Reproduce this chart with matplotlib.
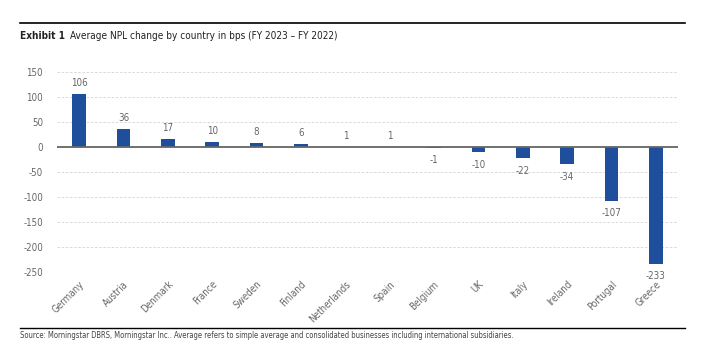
"""Average NPL change by country in bps (FY 2023 - FY 2022)."""

import matplotlib

matplotlib.use("Agg")
import matplotlib.pyplot as plt

countries = ["Germany", "Austria", "Denmark", "France", "Sweden", "Finland", "Netherlands",
             "Spain", "Belgium", "UK", "Italy", "Ireland", "Portugal", "Greece"]
npl_change = [106, 36, 17, 10, 8, 6, 1, 1, -1, -10, -22, -34, -107, -233]
y_ticks = [150, 100, 50, 0, -50, -100, -150, -200, -250]

TITLE_BOLD = "Exhibit 1"
TITLE_TEXT = "Average NPL change by country in bps (FY 2023 \u2013 FY 2022)"
SOURCE = ("Source: Morningstar DBRS, Morningstar Inc.. Average refers to simple average and "
          "consolidated businesses including international subsidiaries.")

BAR_COLOR = "#1f4e9d"
TEXT_GREY = "#666666"

# condensed face is the closest thing to the narrow house font
plt.rcParams["font.family"] = ["DejaVu Sans"]
plt.rcParams["font.stretch"] = "condensed"

W, H = 716, 345
fig = plt.figure(figsize=(W / 100, H / 100), dpi=100)
ax = fig.add_axes([57 / W, 1 - 272 / H, (678 - 57) / W, 200 / H])

x = range(len(countries))
ax.bar(x, npl_change, width=0.31, color=BAR_COLOR, zorder=3)
for i, v in enumerate(npl_change):
    if v >= 0:
        ax.annotate(str(v), (i, v), xytext=(0, 4), textcoords="offset points",
                    ha="center", va="bottom", fontsize=7, color=TEXT_GREY)
    else:
        ax.annotate(str(v), (i, v), xytext=(0, -5.5), textcoords="offset points",
                    ha="center", va="top", fontsize=7, color=TEXT_GREY,
                    annotation_clip=False)

ax.set_xlim(-0.5, len(countries) - 0.5)
ax.set_ylim(-250, 150)
ax.set_yticks(y_ticks)
ax.set_yticklabels([str(t) for t in y_ticks], fontsize=7, color=TEXT_GREY)
ax.set_xticks(list(x))
ax.set_xticklabels(countries, rotation=45, ha="right", rotation_mode="anchor",
                   fontsize=7, color=TEXT_GREY)
ax.tick_params(axis="both", length=0)
ax.tick_params(axis="y", pad=10)
ax.tick_params(axis="x", pad=5)

ax.grid(axis="y", color="#d4d4d4", linestyle=(0, (3, 2)), linewidth=0.6, zorder=0)
ax.axhline(0, color="#666666", linewidth=1.3, zorder=4)
for s in ax.spines.values():
    s.set_visible(False)

# header and footer rules
fig.add_artist(plt.Line2D([20 / W, 685 / W], [1 - 23 / H] * 2, color="black", linewidth=1.2))
fig.add_artist(plt.Line2D([20 / W, 685 / W], [1 - 328 / H] * 2, color="black", linewidth=1.0))

t1 = fig.text(20 / W, 1 - 36 / H, TITLE_BOLD, fontsize=7.2, fontweight="bold",
              va="center", ha="left", color="#222222")
fig.canvas.draw()
bb = t1.get_window_extent()
fig.text((bb.x1 + 5) / W, 1 - 36 / H, TITLE_TEXT, fontsize=7.2, va="center", ha="left",
         color="#222222")

fig.text(20 / W, 1 - 335 / H, SOURCE, fontsize=5.5, va="center", ha="left", color="#444444")

fig.savefig("out.png", dpi=100)
